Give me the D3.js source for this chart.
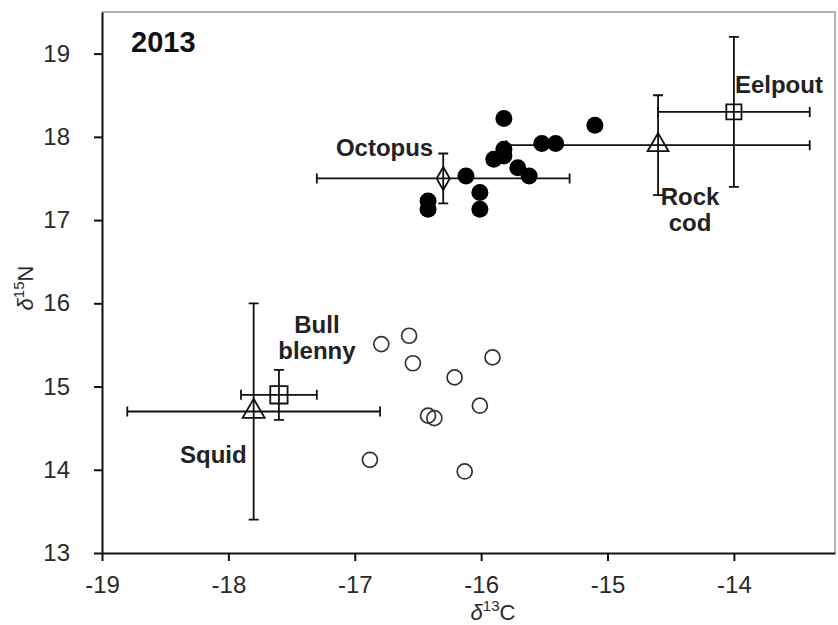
<!DOCTYPE html>
<html>
<head>
<meta charset="utf-8">
<script src="https://cdn.jsdelivr.net/npm/d3@7"></script>
<style>
  body { margin: 0; background: #fff; }
  svg { font-family: "Liberation Sans", Arial, sans-serif; }
  .axis text { fill: #2a2a2a; font-size: 24px; }
  .axis path, .axis line { stroke: #111; stroke-width: 2; }
  .lbl { font-weight: bold; font-size: 24px; fill: #222; }
</style>
</head>
<body>
<svg width="838" height="625"></svg>
<script>
// filled circles (upper group)
var filledX = [-15.82, -15.10, -15.52, -15.41, -15.82, -15.90, -15.82, -15.71, -15.62, -16.12, -16.01, -16.01, -16.42, -16.42];
var filledY = [18.22, 18.14, 17.92, 17.92, 17.85, 17.73, 17.77, 17.63, 17.53, 17.53, 17.33, 17.13, 17.23, 17.13];

// open circles (lower group)
var openX = [-16.79, -16.57, -16.54, -16.88, -15.91, -16.21, -16.01, -16.42, -16.37, -16.13];
var openY = [15.51, 15.61, 15.28, 14.12, 15.35, 15.11, 14.77, 14.65, 14.62, 13.98];

// prey species means with standard deviations
var species = ["Octopus", "Rock cod", "Eelpout", "Squid", "Bull blenny"];
var meanX = [-16.3, -14.6, -14.0, -17.8, -17.6];
var meanY = [17.5, 17.9, 18.3, 14.7, 14.9];
var sdX = [1.0, 1.2, 0.6, 1.0, 0.3];
var sdY = [0.3, 0.6, 0.9, 1.3, 0.3];
var shapes = ["diamond", "triangle", "square", "triangle", "square"];

var xTicks = [-19, -18, -17, -16, -15, -14];
var yTicks = [13, 14, 15, 16, 17, 18, 19];

var svg = d3.select("svg"),
  margin = { top: 12, right: 3, bottom: 72, left: 102 },
  width = +svg.attr("width") - margin.left - margin.right,
  height = +svg.attr("height") - margin.top - margin.bottom,
  g = svg.append("g").attr("transform", "translate(" + margin.left + "," + margin.top + ")");

var x = d3.scaleLinear().domain([-19, -13.2]).range([0, width]),
  y = d3.scaleLinear().domain([13, 19.5]).range([height, 0]);

// top and right frame (grey)
g.append("path")
  .attr("d", "M0,0H" + width + "V" + height)
  .attr("fill", "none")
  .attr("stroke", "#9a9a9a")
  .attr("stroke-width", 1.5);

// axes - plain hyphen for negatives like the original
g.append("g")
  .attr("class", "axis")
  .attr("transform", "translate(0," + height + ")")
  .call(d3.axisBottom(x).tickValues(xTicks).tickSize(8).tickSizeOuter(0).tickPadding(15)
    .tickFormat(function(d) { return String(d); }));

g.append("g")
  .attr("class", "axis")
  .call(d3.axisLeft(y).tickValues(yTicks).tickSize(8).tickSizeOuter(0).tickPadding(24)
    .tickFormat(function(d) { return String(d); }));

// axis titles
var xt = svg.append("text")
  .attr("x", 493).attr("y", 620)
  .attr("text-anchor", "middle")
  .attr("font-size", 22).attr("fill", "#2a2a2a");
xt.append("tspan").attr("font-style", "italic").text("δ");
xt.append("tspan").attr("font-size", 15).attr("dy", -9).text("13");
xt.append("tspan").attr("dy", 9).text("C");

var yt = svg.append("text")
  .attr("transform", "translate(33,288) rotate(-90)")
  .attr("text-anchor", "middle")
  .attr("font-size", 22).attr("fill", "#2a2a2a");
yt.append("tspan").attr("font-style", "italic").text("δ");
yt.append("tspan").attr("font-size", 15).attr("dy", -9).text("15");
yt.append("tspan").attr("dy", 9).text("N");

// year label
svg.append("text")
  .attr("x", 131).attr("y", 52)
  .attr("font-size", 29).attr("font-weight", "bold").attr("fill", "#111")
  .text("2013");

// open circles
g.selectAll(".open")
  .data(openX)
  .enter().append("circle")
  .attr("cx", function(d) { return x(d); })
  .attr("cy", function(d, i) { return y(openY[i]); })
  .attr("r", 7.5)
  .attr("fill", "none")
  .attr("stroke", "#333")
  .attr("stroke-width", 1.7);

// error bars
var cap = 5;
species.forEach(function(s, i) {
  var cx = x(meanX[i]), cy = y(meanY[i]);
  var x0 = x(meanX[i] - sdX[i]), x1 = x(meanX[i] + sdX[i]);
  var y0 = y(meanY[i] - sdY[i]), y1 = y(meanY[i] + sdY[i]);
  var p = "M" + x0 + "," + cy + "H" + x1 +
    "M" + x0 + "," + (cy - cap) + "V" + (cy + cap) +
    "M" + x1 + "," + (cy - cap) + "V" + (cy + cap) +
    "M" + cx + "," + y0 + "V" + y1 +
    "M" + (cx - cap) + "," + y0 + "H" + (cx + cap) +
    "M" + (cx - cap) + "," + y1 + "H" + (cx + cap);
  g.append("path").attr("d", p).attr("fill", "none").attr("stroke", "#111").attr("stroke-width", 1.8);
});

// species markers
var symType = { diamond: d3.symbolDiamond, triangle: d3.symbolTriangle, square: d3.symbolSquare };
var symSize = [150, 190, 230, 210, 300];
species.forEach(function(s, i) {
  g.append("path")
    .attr("transform", "translate(" + x(meanX[i]) + "," + y(meanY[i]) + ")")
    .attr("d", d3.symbol().type(symType[shapes[i]]).size(symSize[i])())
    .attr("fill", "none")
    .attr("stroke", "#111")
    .attr("stroke-width", 1.8);
});

// filled circles
g.selectAll(".filled")
  .data(filledX)
  .enter().append("circle")
  .attr("cx", function(d) { return x(d); })
  .attr("cy", function(d, i) { return y(filledY[i]); })
  .attr("r", 8.5)
  .attr("fill", "#000");

// species labels, offset in pixels from each mean
var lblOff = [
  { dx: -10, dy: -22, anchor: "end", lines: ["Octopus"] },
  { dx: 32, dy: 60, anchor: "middle", lines: ["Rock", "cod"] },
  { dx: 1, dy: -19, anchor: "start", lines: ["Eelpout"] },
  { dx: -7, dy: 51, anchor: "end", lines: ["Squid"] },
  { dx: 38, dy: -62, anchor: "middle", lines: ["Bull", "blenny"] }
];
species.forEach(function(s, i) {
  var o = lblOff[i];
  var t = g.append("text")
    .attr("class", "lbl")
    .attr("text-anchor", o.anchor);
  o.lines.forEach(function(line, j) {
    t.append("tspan")
      .attr("x", x(meanX[i]) + o.dx)
      .attr("y", y(meanY[i]) + o.dy + j * 26)
      .text(line);
  });
});
</script>
</body>
</html>
